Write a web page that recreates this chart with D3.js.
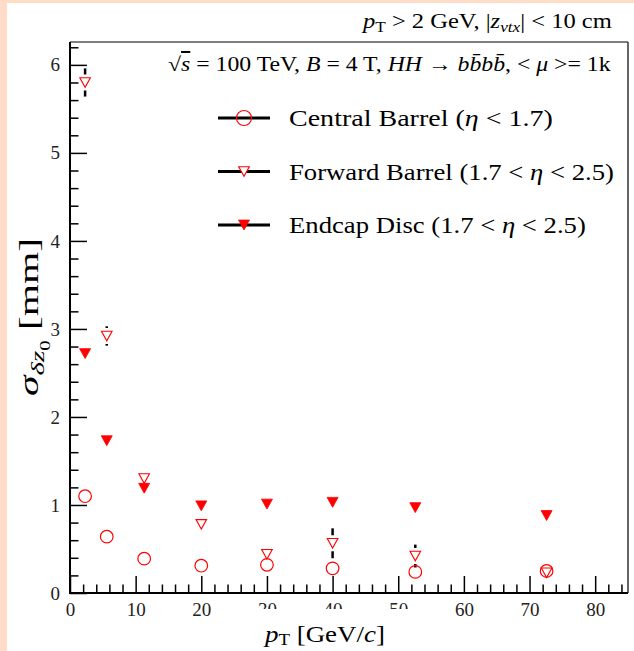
<!DOCTYPE html>
<html><head><meta charset="utf-8">
<script src="https://cdn.jsdelivr.net/npm/d3@7"></script>
<style>body{margin:0;background:#fff}svg{display:block}</style>
</head><body>
<svg id="c" width="634" height="651"></svg>
<script>
// ---- data ----
const pT = [2.3, 5.6, 11.3, 20, 30, 40, 52.6, 72.6];
const central = [1.10, 0.64, 0.39, 0.31, 0.32, 0.28, 0.24, 0.25];
const centralErr = [0.03, 0.02, 0.01, 0.01, 0.01, 0.01, 0.01, 0.01];
const forward = [5.80, 2.92, 1.30, 0.78, 0.44, 0.565, 0.42, 0.23];
const forwardErr = [0.16, 0.11, 0.04, 0.03, 0.05, 0.17, 0.13, 0.04];
const endcap = [2.72, 1.73, 1.19, 0.99, 1.01, 1.03, 0.97, 0.88];
const endcapErr = [0.05, 0.03, 0.02, 0.02, 0.02, 0.03, 0.03, 0.04];
const xTickLabels = [0, 10, 20, 30, 40, 50, 60, 70, 80];
const yTickLabels = [0, 1, 2, 3, 4, 5, 6];
const seriesNames = ["Central Barrel", "Forward Barrel", "Endcap Disc"];
const seriesEta = [["(", "η", " < 1.7)"], ["(1.7 < ", "η", " < 2.5)"], ["(1.7 < ", "η", " < 2.5)"]];

const FONT = "'Liberation Serif', 'DejaVu Serif', serif";
const RED = "#ff0000";
const svg = d3.select("#c");

// background
svg.append("rect").attr("width", 634).attr("height", 651).attr("fill", "#fedcc7");
svg.append("rect").attr("x", 7).attr("y", 3).attr("width", 627).attr("height", 648).attr("fill", "#fff");

const x = d3.scaleLinear().domain([0, 85]).range([70, 628]);
const y = d3.scaleLinear().domain([0, 6.26]).range([593, 42]);

// ---- rich text helper ----
function rich(parent, segs, size) {
  const t = parent.append("text").attr("x", 0).attr("y", 0)
    .attr("font-size", size).attr("font-family", FONT).attr("fill", "#000");
  let cur = 0;
  segs.forEach(s => {
    const fs = s.sub2 ? size * 0.5 : (s.sub || s.sup) ? size * 0.7 : size;
    const off = s.sub2 ? size * 0.42 : s.sub ? size * (s.subOff || 0.22) : s.sup ? -size * 0.4 : 0;
    const ts = t.append("tspan").text(s.t).attr("dy", off - cur).attr("font-size", fs);
    cur = off;
    if (s.it) ts.attr("font-style", "italic");
    if (s.ol) ts.style("text-decoration", "overline");
  });
  return t;
}
function fitted(parent, segs, size, x0, x1, yb, rot) {
  const g = parent.append("g");
  const t = rich(g, segs, size);
  const w = t.node().getComputedTextLength();
  const sx = Math.abs(x1 - x0) / w;
  if (rot) g.attr("transform", `translate(${yb},${x0}) rotate(-90) scale(${sx},1)`);
  else g.attr("transform", `translate(${x0},${yb}) scale(${sx},1)`);
  return g;
}

// ---- axes ----
const minorX = d3.range(0, 85, 2).filter(v => v % 10 !== 0);
const minorY = d3.range(0, 6.26, 0.2).filter(v => Math.abs(v - Math.round(v)) > 0.01);

svg.append("g").attr("transform", "translate(0,593)")
  .call(d3.axisBottom(x).tickValues(xTickLabels).tickSize(-17).tickPadding(10).tickFormat(d3.format("d")));
svg.append("g").attr("transform", "translate(0,593)")
  .call(d3.axisBottom(x).tickValues(minorX).tickSize(-8.5).tickFormat(""));
svg.append("g").attr("transform", "translate(70,0)")
  .call(d3.axisLeft(y).tickValues(yTickLabels).tickSize(-17).tickPadding(10).tickFormat(d3.format("d")));
svg.append("g").attr("transform", "translate(70,0)")
  .call(d3.axisLeft(y).tickValues(minorY).tickSize(-8.5).tickFormat(""));
svg.selectAll(".domain").remove();
svg.selectAll(".tick line").attr("stroke", "#000").attr("stroke-width", 1.5);
svg.selectAll(".tick text").attr("font-family", FONT).attr("font-size", 19).attr("fill", "#222");

// frame
svg.append("line").attr("x1", 70).attr("x2", 628).attr("y1", 42).attr("y2", 42).attr("stroke", "#555").attr("stroke-width", 1.5);
svg.append("line").attr("x1", 628).attr("x2", 628).attr("y1", 42).attr("y2", 593).attr("stroke", "#333").attr("stroke-width", 1.5);
svg.append("line").attr("x1", 70).attr("x2", 70).attr("y1", 42).attr("y2", 594).attr("stroke", "#000").attr("stroke-width", 2);
svg.append("line").attr("x1", 69).attr("x2", 628).attr("y1", 593).attr("y2", 593).attr("stroke", "#000").attr("stroke-width", 2);

// ---- series ----
const series = [
  { vals: central, errs: centralErr, type: "circle" },
  { vals: forward, errs: forwardErr, type: "openTri" },
  { vals: endcap, errs: endcapErr, type: "fillTri" }
];
const triPath = (s) => `M${-s},${-s * 0.9}L${s},${-s * 0.9}L0,${s * 0.9}Z`;
function marker(g, type, legend) {
  if (type === "circle") {
    g.append("circle").attr("r", legend ? 7.5 : 6.3).attr("fill", "none").attr("stroke", RED).attr("stroke-width", 1.2);
  } else if (type === "openTri") {
    g.append("path").attr("d", triPath(5.3)).attr("fill", legend ? "#fff" : "none").attr("stroke", RED).attr("stroke-width", 1.1);
  } else {
    g.append("path").attr("d", triPath(5.5)).attr("fill", RED).attr("stroke", RED).attr("stroke-width", 0.8);
  }
}
const GAP = 8;
const eb = svg.append("g");
series.forEach(s => {
  s.vals.forEach((v, i) => {
    const cx = x(pT[i]), cy = y(v);
    const top = y(v + s.errs[i]), bot = y(v - s.errs[i]);
    if (cy - top > GAP) eb.append("line").attr("x1", cx).attr("x2", cx).attr("y1", top).attr("y2", cy - GAP).attr("stroke", "#000").attr("stroke-width", 2.5);
    if (bot - cy > GAP) eb.append("line").attr("x1", cx).attr("x2", cx).attr("y1", cy + GAP).attr("y2", bot).attr("stroke", "#000").attr("stroke-width", 2.5);
  });
});
series.forEach(s => {
  s.vals.forEach((v, i) => {
    const g = svg.append("g").attr("transform", `translate(${x(pT[i])},${y(v)})`);
    marker(g, s.type, false);
  });
});

// ---- legend ----
const legY = [118, 171.5, 225];
const legEnd = [553, 614, 586];
series.forEach((s, k) => {
  svg.append("line").attr("x1", 218).attr("x2", 270).attr("y1", legY[k]).attr("y2", legY[k]).attr("stroke", "#000").attr("stroke-width", 3);
  const g = svg.append("g").attr("transform", `translate(244,${legY[k]})`);
  marker(g, s.type, true);
  const e = seriesEta[k];
  fitted(svg, [{ t: seriesNames[k] + " " + e[0] }, { t: e[1], it: 1 }, { t: e[2] }], 23, 289, legEnd[k], legY[k] + 8);
});

// ---- annotation texts ----
fitted(svg, [{ t: "p", it: 1 }, { t: "T", sub: 1 }, { t: " > 2 GeV, |" }, { t: "z", it: 1 }, { t: "vtx", it: 1, sub: 1 }, { t: "| < 10 cm" }],
  20, 363, 612, 28);
fitted(svg, [{ t: "√" }, { t: "s", it: 1, ol: 1 }, { t: " = 100 TeV, " }, { t: "B", it: 1 }, { t: " = 4 T, " }, { t: "HH", it: 1 }, { t: " → " },
  { t: "bb\u0304bb\u0304", it: 1 }, { t: ", < " }, { t: "μ", it: 1 }, { t: " >= 1k" }], 20, 168, 611, 71);

// white box overlapping tick labels (as in reference)
svg.append("rect").attr("x", 250).attr("y", 609).attr("width", 170).attr("height", 42).attr("fill", "#fff");
// x title
fitted(svg, [{ t: "p", it: 1 }, { t: "T", sub: 1, subOff: 0.15 }, { t: " [GeV/" }, { t: "c", it: 1 }, { t: "]" }], 23, 265, 385, 642);
// y title (rotated)
fitted(svg, [{ t: "σ", it: 1 }, { t: "δz", it: 1, sub: 1 }, { t: "0", sub2: 1 }, { t: " [mm]" }], 28, 396, 238, 38, true);
</script>
</body></html>
